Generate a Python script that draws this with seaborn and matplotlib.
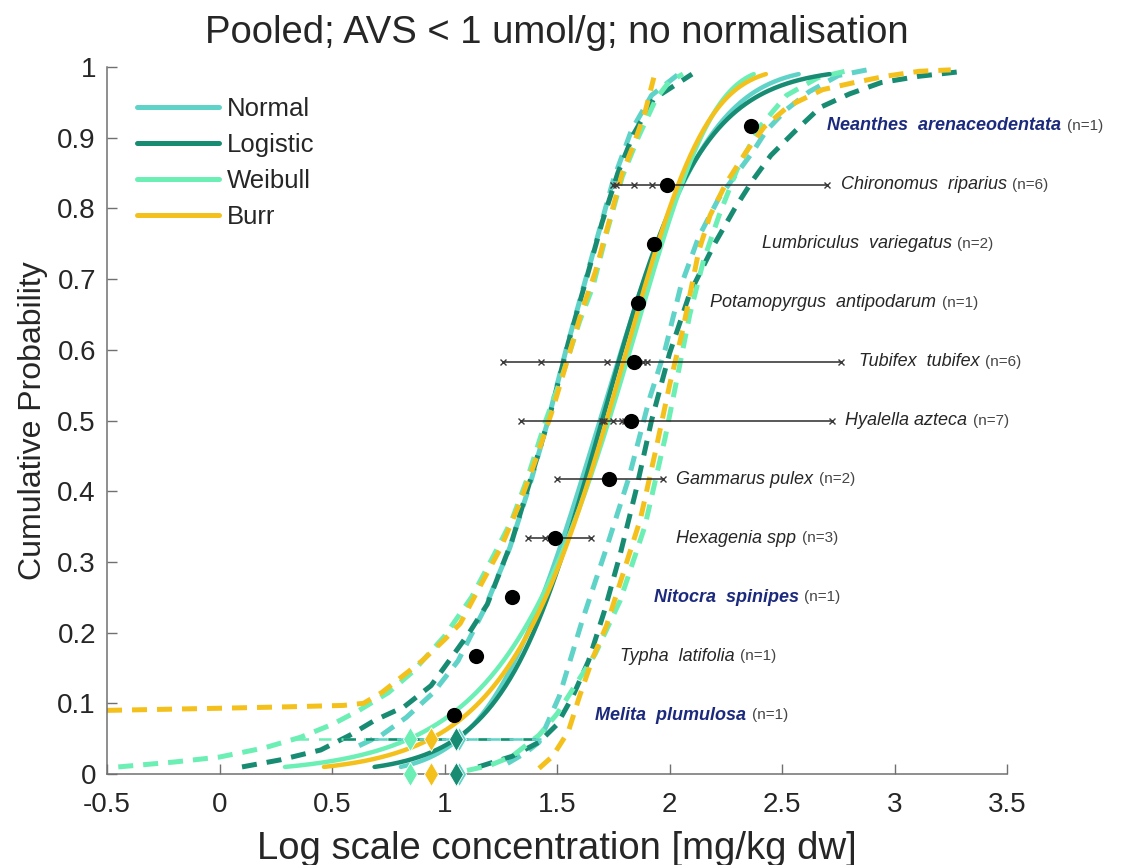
import numpy as np
import pandas as pd
import matplotlib
matplotlib.use("Agg")
import matplotlib.pyplot as plt
import seaborn as sns
from statistics import NormalDist

# ---------------------------------------------------------------------------
# Species data (log10 concentration, mg/kg dw)
# ---------------------------------------------------------------------------
species = [
    "Melita  plumulosa", "Typha  latifolia", "Nitocra  spinipes", "Hexagenia spp",
    "Gammarus pulex", "Hyalella azteca", "Tubifex  tubifex",
    "Potamopyrgus  antipodarum", "Lumbriculus  variegatus", "Chironomus  riparius",
    "Neanthes  arenaceodentata",
]
n_tests = [1, 1, 1, 3, 2, 7, 6, 1, 2, 6, 1]
marine = [True, False, True, False, False, False, False, False, False, False, True]
species_value = [1.04, 1.14, 1.30, 1.49, 1.73, 1.83, 1.84, 1.86, 1.93, 1.99, 2.36]
test_values = [
    [1.04], [1.14], [1.30],
    [1.37, 1.445, 1.65],
    [1.50, 1.97],
    [1.34, 1.70, 1.71, 1.75, 1.79, 1.80, 2.72],
    [1.26, 1.43, 1.72, 1.88, 1.90, 2.76],
    [1.86],
    [1.93, 1.93],
    [1.75, 1.76, 1.84, 1.92, 1.98, 2.70],
    [2.36],
]
label_x = [1.67, 1.78, 1.93, 2.03, 2.03, 2.78, 2.84, 2.18, 2.41, 2.76, 2.70]

# ---------------------------------------------------------------------------
# Fitted distributions (log10 scale)
# ---------------------------------------------------------------------------
dist_names = ["Normal", "Logistic", "Weibull", "Burr"]
normal_mu, normal_sigma = 1.69, 0.38
logistic_loc, logistic_scale = 1.70, 0.22
weibull_loc, weibull_scale = 1.855, 0.34
burr_loc, burr_rate, burr_shape = 2.204, 3.44, 4.0

palette = {"Normal": "#5fd3c8", "Logistic": "#178c73",
           "Weibull": "#6cefb4", "Burr": "#f4c11c"}

# Pointwise confidence bounds of the fitted curves
lower_bounds = {
    "Normal": ([0.62, 0.72, 0.83, 0.95, 1.06, 1.18, 1.29, 1.38, 1.46, 1.54, 1.61,
                1.68, 1.75, 1.83, 1.92, 2.04],
               [0.04, 0.055, 0.08, 0.115, 0.16, 0.235, 0.32, 0.41, 0.50, 0.60, 0.68,
                0.76, 0.84, 0.91, 0.96, 0.99]),
    "Logistic": ([0.10, 0.27, 0.45, 0.58, 0.69, 0.82, 0.94, 1.02, 1.11, 1.19, 1.30,
                  1.39, 1.47, 1.55, 1.63, 1.70, 1.77, 1.84, 1.93, 2.10],
                 [0.01, 0.02, 0.034, 0.055, 0.076, 0.095, 0.125, 0.16, 0.20, 0.24, 0.33,
                  0.425, 0.51, 0.61, 0.70, 0.78, 0.85, 0.905, 0.955, 0.99]),
    "Weibull": ([-0.45, -0.2, 0.0, 0.2, 0.36, 0.50, 0.62, 0.75, 0.86, 1.00, 1.12,
                 1.22, 1.30, 1.37, 1.45, 1.53, 1.60, 1.66, 1.72, 1.79, 1.86, 1.94,
                 2.00, 2.06],
                [0.01, 0.017, 0.024, 0.037, 0.052, 0.07, 0.09, 0.115, 0.145, 0.195,
                 0.25, 0.31, 0.36, 0.42, 0.50, 0.57, 0.64, 0.69, 0.765, 0.845, 0.90,
                 0.955, 0.98, 0.99]),
    "Burr": ([-0.50, 0.0, 0.30, 0.55, 0.64, 0.72, 0.80, 0.90, 1.00, 1.07, 1.14, 1.25,
              1.33, 1.40, 1.48, 1.55, 1.61, 1.67, 1.73, 1.79, 1.84, 1.89, 1.93],
             [0.09, 0.093, 0.095, 0.097, 0.10, 0.115, 0.135, 0.16, 0.19, 0.213, 0.255,
              0.32, 0.38, 0.44, 0.515, 0.59, 0.655, 0.71, 0.78, 0.85, 0.89, 0.935,
              0.985]),
}
upper_bounds = {
    "Normal": ([1.28, 1.36, 1.42, 1.51, 1.61, 1.72, 1.82, 1.91, 1.98, 2.05, 2.13,
                2.22, 2.30, 2.37, 2.43, 2.52, 2.62, 2.75, 2.91],
               [0.015, 0.03, 0.045, 0.11, 0.215, 0.32, 0.42, 0.53, 0.60, 0.69, 0.76,
                0.815, 0.85, 0.88, 0.91, 0.94, 0.965, 0.988, 0.998]),
    "Logistic": ([1.15, 1.30, 1.42, 1.50, 1.57, 1.64, 1.71, 1.78, 1.85, 1.92, 2.00,
                  2.09, 2.20, 2.29, 2.37, 2.45, 2.56, 2.67, 2.80, 2.94, 3.11, 3.28],
                 [0.01, 0.025, 0.045, 0.07, 0.11, 0.16, 0.23, 0.31, 0.40, 0.50, 0.595,
                  0.68, 0.75, 0.80, 0.84, 0.875, 0.91, 0.943, 0.962, 0.978, 0.987,
                  0.993]),
    "Weibull": ([1.10, 1.20, 1.30, 1.42, 1.50, 1.58, 1.67, 1.78, 1.89, 1.98, 2.04,
                 2.09, 2.15, 2.22, 2.30, 2.40, 2.52, 2.66, 2.82],
                [0.005, 0.012, 0.025, 0.055, 0.085, 0.125, 0.17, 0.245, 0.35, 0.475,
                 0.57, 0.65, 0.725, 0.79, 0.855, 0.915, 0.96, 0.985, 0.997]),
    "Burr": ([1.42, 1.48, 1.55, 1.60, 1.66, 1.72, 1.79, 1.87, 1.94, 2.00, 2.06, 2.13,
              2.18, 2.25, 2.34, 2.42, 2.53, 2.68, 2.82, 2.96, 3.11, 3.25],
             [0.008, 0.025, 0.06, 0.11, 0.165, 0.21, 0.28, 0.36, 0.46, 0.55, 0.63,
              0.74, 0.79, 0.835, 0.88, 0.915, 0.945, 0.968, 0.978, 0.987, 0.994,
              0.996]),
}
hc5_ci_dists = ["Weibull", "Logistic", "Normal"]


def cdf(name, x):
    x = np.asarray(x, dtype=float)
    if name == "Normal":
        nd = NormalDist(normal_mu, normal_sigma)
        return np.array([nd.cdf(v) for v in x])
    if name == "Logistic":
        return 1.0 / (1.0 + np.exp(-(x - logistic_loc) / logistic_scale))
    if name == "Weibull":
        return 1.0 - np.exp(-np.exp((x - weibull_loc) / weibull_scale))
    return 1.0 - (1.0 + np.exp(burr_rate * (x - burr_loc))) ** (-burr_shape)


def quantile(name, p):
    if name == "Normal":
        return NormalDist(normal_mu, normal_sigma).inv_cdf(p)
    if name == "Logistic":
        return logistic_loc + logistic_scale * np.log(p / (1 - p))
    if name == "Weibull":
        return weibull_loc + weibull_scale * np.log(-np.log(1 - p))
    return burr_loc + np.log((1 - p) ** (-1.0 / burr_shape) - 1) / burr_rate


# ---------------------------------------------------------------------------
# Figure
# ---------------------------------------------------------------------------
sns.set_theme(style="ticks")
plt.rcParams["font.family"] = ["Liberation Sans", "DejaVu Sans"]
text_color = "#262626"

fig = plt.figure(figsize=(11.47, 8.65), dpi=100)
ax = fig.add_axes([0.0933, 0.1052, 0.7847, 0.8173])

# confidence bounds
dash_style = (0, (3, 2))
for name in dist_names:
    for bounds in (lower_bounds, upper_bounds):
        bx, by = bounds[name]
        sns.lineplot(x=bx, y=by, color=palette[name], lw=3.6, linestyle=dash_style,
                     sort=False, estimator=None, ax=ax, zorder=2)

# fitted curves, drawn from the 1st to the 99th percentile
rows = []
for name in dist_names:
    xs = np.linspace(quantile(name, 0.01), quantile(name, 0.99), 300)
    rows.append(pd.DataFrame({"x": xs, "p": cdf(name, xs), "dist": name}))
fits = pd.concat(rows, ignore_index=True)
sns.lineplot(data=fits, x="x", y="p", hue="dist", hue_order=dist_names,
             palette=palette, lw=3.2, sort=False, estimator=None, legend=False,
             ax=ax, zorder=3)

# HC5 with its confidence interval
for name in hc5_ci_dists:
    lo = np.interp(0.05, lower_bounds[name][1], lower_bounds[name][0])
    hi = np.interp(0.05, upper_bounds[name][1], upper_bounds[name][0])
    ax.plot([lo, hi], [0.05, 0.05], color=palette[name], lw=1.8,
            linestyle=(0, (5, 4)), zorder=4)
for name in ["Weibull", "Burr", "Normal", "Logistic"]:
    hc5 = quantile(name, 0.05)
    ax.plot([hc5, hc5], [0.05, 0.0], linestyle="none", marker="d", ms=12,
            color=palette[name], mec="white", mew=0.6, zorder=6, clip_on=False)

# species points with the spread of their individual tests
n_sp = len(species)
ranks = [(i + 1) / (n_sp + 1) for i in range(n_sp)]
for vals, y in zip(test_values, ranks):
    if max(vals) > min(vals):
        ax.plot([min(vals), max(vals)], [y, y], color="#2b2b2b", lw=1.1, zorder=7)
        ax.plot(vals, [y] * len(vals), linestyle="none", marker="x", ms=5, mew=1.0,
                color="#3a3a3a", zorder=7)
sns.scatterplot(x=species_value, y=ranks, color="black", s=120, linewidth=0,
                ax=ax, zorder=8)

for name, n, sea, lx, y in zip(species, n_tests, marine, label_x, ranks):
    t = ax.text(lx, y, name, fontsize=13, style="italic", va="center", ha="left",
                color="#1c2a7d" if sea else text_color,
                fontweight="bold" if sea else "normal", zorder=9)
    ax.annotate(f"(n={n})", xy=(1, 0.5), xycoords=t, xytext=(4, 0),
                textcoords="offset points", va="center", ha="left", fontsize=11,
                color="#454545")

# axes
ax.set_xlim(-0.5, 3.5)
ax.set_ylim(0, 1)
xticks = np.arange(-0.5, 3.51, 0.5)
yticks = np.arange(0, 1.001, 0.1)
ax.set_xticks(xticks)
ax.set_xticklabels([f"{v:g}" for v in xticks])
ax.set_yticks(yticks)
ax.set_yticklabels([f"{v:.1f}".rstrip("0").rstrip(".") if v > 0 else "0" for v in yticks])
ax.tick_params(direction="in", length=7, width=1, colors="#707070",
               labelcolor=text_color, labelsize=20, pad=8)
ax.tick_params(axis="x", pad=13)
for side in ("left", "bottom"):
    ax.spines[side].set_color("#707070")
    ax.spines[side].set_linewidth(1.1)
sns.despine(ax=ax)

ax.set_title("Pooled; AVS < 1 umol/g; no normalisation", fontsize=27.5,
             color=text_color, pad=17)
ax.set_xlabel("Log scale concentration [mg/kg dw]", fontsize=27.5, color=text_color,
              labelpad=9)
ax.set_ylabel("Cumulative Probability", fontsize=23, color=text_color, labelpad=7)

handles = [plt.Line2D([], [], color=palette[n], lw=3.6) for n in dist_names]
ax.legend(handles, dist_names, loc="upper left", bbox_to_anchor=(0.033, 0.957),
          frameon=False, fontsize=18.5, handlelength=3.2, handletextpad=0.3,
          labelspacing=0.46, borderaxespad=0, borderpad=0)

fig.savefig("out.png", dpi=100)
